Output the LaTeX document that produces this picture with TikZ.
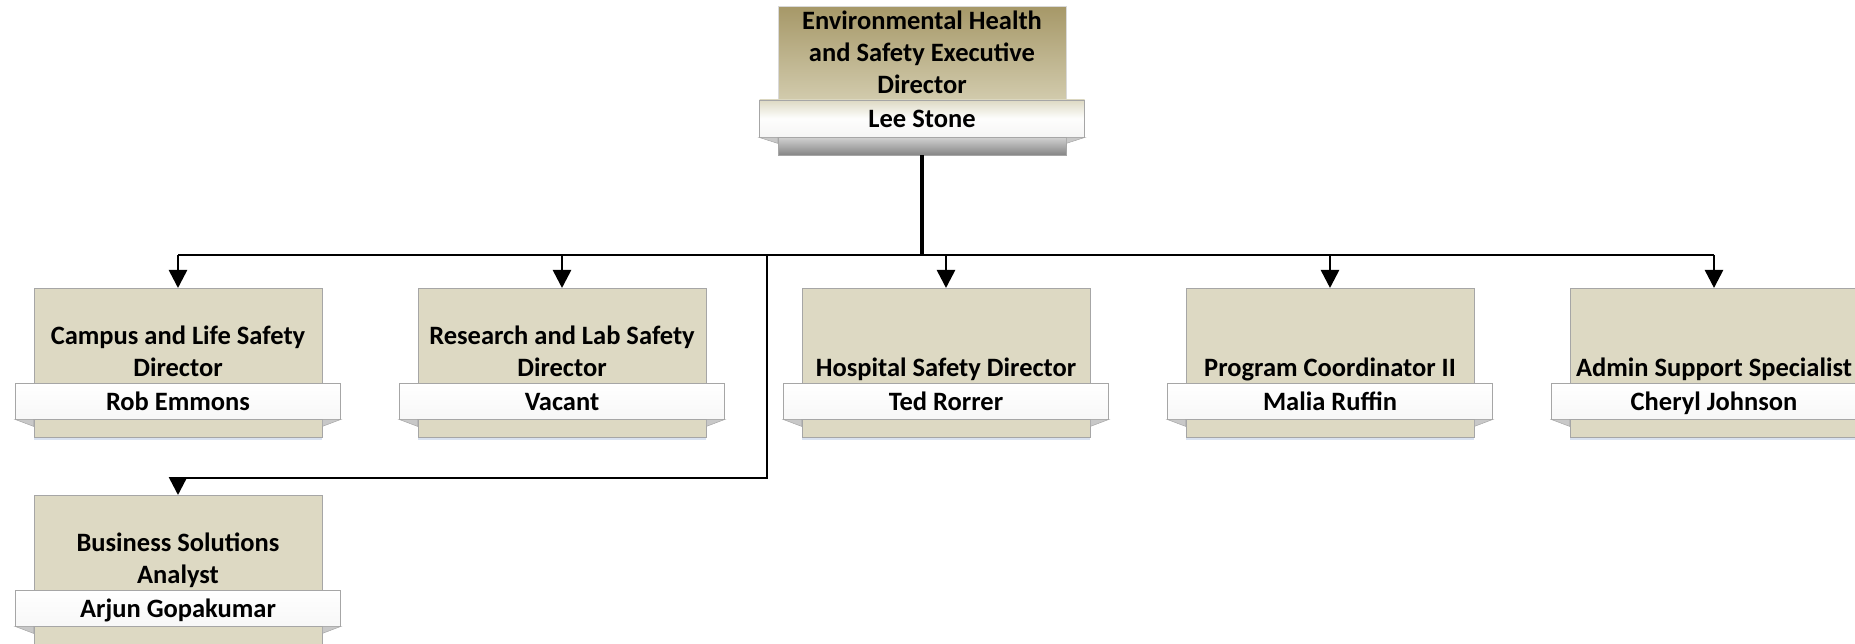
\documentclass[tikz,border=0pt]{standalone}
\usepackage{fontspec}
\setmainfont{Carlito}
\usetikzlibrary{arrows.meta,shadows}
\definecolor{tanfill}{HTML}{DDD9C3}
\definecolor{tandark}{HTML}{A69868}
\definecolor{tanlight}{HTML}{E3DFC8}
\definecolor{edgegrey}{HTML}{A6A6A6}
\definecolor{foldgrey}{HTML}{C8C8C8}
\definecolor{shadowblue}{HTML}{C9D6EA}
\tikzset{
  x=1pt, y=-1pt,
  tanbox/.style={fill=tanfill, draw=edgegrey, line width=0.8pt, minimum width=288pt,
    minimum height=149pt, inner sep=0pt, anchor=north,
    drop shadow={shadow xshift=0pt, shadow yshift=-3pt, fill=shadowblue, opacity=0.7}},
  namebar/.style={draw=edgegrey, line width=0.8pt, top color=white, bottom color=white!97!black,
    minimum width=325pt, minimum height=36pt, inner sep=0pt, text height=18.5pt, text depth=0pt,
    font=\fontsize{26.5}{32}\selectfont\bfseries},
  titletext/.style={font=\fontsize{26.5}{32}\selectfont\bfseries, align=center, inner sep=0pt, anchor=south},
  fold/.style={fill=foldgrey, draw=edgegrey, line width=0.5pt},
  conn/.style={draw=black, line width=2.6pt},
  trunk/.style={draw=black, line width=4pt},
  tip/.style={-{Triangle[width=18pt,length=18pt]}},
}
\newcommand\staffbox[5]{%
  \node[tanbox] (#1) at (#2,#3) {};
  \node[namebar] (#1-bar) at (#2,#3+113) {#5};
  \fill[fold] (#1-bar.south west) -- (#1-bar.south west -| #1.west) -- ++(0,7) -- cycle;
  \fill[fold] (#1-bar.south east) -- (#1-bar.south east -| #1.east) -- ++(0,7) -- cycle;
  \node[titletext] (#1-title) at (#2,#3+98.5) {#4};
}
\begin{document}
\begin{tikzpicture}
\useasboundingbox (0,0) rectangle (1855,644);
% top box
\node[anchor=north, minimum width=288pt, minimum height=131pt, inner sep=0pt, draw=white!85!black,
  line width=0.5pt, top color=tandark, bottom color=tanlight] (top) at (922,6) {};
\node[anchor=north, minimum width=288pt, minimum height=18pt, inner sep=0pt, draw=edgegrey,
  line width=0.5pt, top color=white!82!black, bottom color=white!52!black] (topg) at (922,137) {};
\node[namebar, minimum height=37pt, top color=tanfill, bottom color=white!96!black, middle color=white!96!tanfill] (top-bar) at (922,118.5) {Lee Stone};
\fill[fold] (top-bar.south west) -- (top-bar.south west -| topg.west) -- ++(0,6) -- cycle;
\fill[fold] (top-bar.south east) -- (top-bar.south east -| topg.east) -- ++(0,6) -- cycle;
\node[titletext] (top-title) at (922,103.5) {Environmental Health\\and Safety Executive\\Director\strut};
% children
\staffbox{c1}{178}{288}{Campus and Life Safety\\Director\strut}{Rob Emmons}
\staffbox{c2}{562}{288}{Research and Lab Safety\\Director\strut}{Vacant}
\staffbox{c3}{946}{288}{Hospital Safety Director\strut}{Ted Rorrer}
\staffbox{c4}{1330}{288}{Program Coordinator II\strut}{Malia Ruffin}
\staffbox{c5}{1714}{288}{Admin Support Specialist\strut}{Cheryl Johnson}
\staffbox{c6}{178}{495}{Business Solutions\\Analyst\strut}{Arjun Gopakumar}
% connectors
\coordinate (j) at (922,255);
\coordinate (b) at (767,255);
\coordinate (bk) at (767,478);
\draw[trunk] (topg.south) -- (j);
\draw[conn] (j -| c1.north) -- (j -| c5.north);
\foreach \c in {c1,c2,c3,c4,c5}{
  \draw[conn,tip] (j -| \c.north) -- (\c.north);
}
\draw[conn,tip] (b) -- (bk) -| (c6.north);
\end{tikzpicture}
\end{document}
